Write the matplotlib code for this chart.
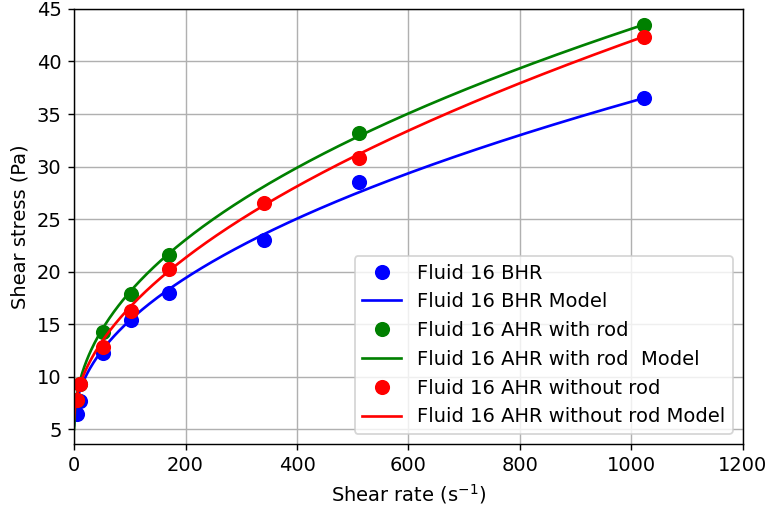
import numpy as np
import matplotlib
matplotlib.use('Agg')
from matplotlib import pyplot as plt

plt.rcParams['font.size'] = 11

# viscometer shear rates (1/s)
rate = [5.11, 10.22, 51.1, 102.2, 170.3, 340.6, 510.9, 1021.8]
rate_rod = [5.11, 10.22, 51.1, 102.2, 170.3, 510.9, 1021.8]

# measured shear stress (Pa)
bhr = [6.5, 7.7, 12.3, 15.4, 18.0, 23.0, 28.5, 36.5]
ahr_rod = [7.8, 9.3, 14.3, 17.9, 21.6, 33.2, 43.5]
ahr_norod = [7.8, 9.3, 12.8, 16.3, 20.3, 26.5, 30.8, 42.3]

# Herschel-Bulkley model parameters: tau0, K, n
hb_bhr = (5.4, 1.043, 0.49)
hb_rod = (5.0, 1.535, 0.465)
hb_norod = (6.0, 0.924, 0.53)


def hb_model(g, params):
    tau0, k, n = params
    return tau0 + k * g ** n


g = np.linspace(0, max(rate), 500)

plt.figure(figsize=(6, 4.008), dpi=128)
plt.subplots_adjust(left=0.0964, right=0.9674, top=0.9825, bottom=0.1345)

ms = 7.5
plt.plot(rate, bhr, 'bo', ms=ms, label='Fluid 16 BHR')
plt.plot(g, hb_model(g, hb_bhr), 'b-', label='Fluid 16 BHR Model')
plt.plot(rate_rod, ahr_rod, 'go', ms=ms, label='Fluid 16 AHR with rod')
plt.plot(g, hb_model(g, hb_rod), 'g-', label='Fluid 16 AHR with rod  Model')
plt.plot(rate, ahr_norod, 'ro', ms=ms, label='Fluid 16 AHR without rod')
plt.plot(g, hb_model(g, hb_norod), 'r-', label='Fluid 16 AHR without rod Model')

plt.xlim(0, 1200)
plt.ylim(3.6, 45)
plt.xlabel('Shear rate (s$^{-1}$)')
plt.ylabel('Shear stress (Pa)')
plt.grid()
plt.legend(loc='lower right')

plt.savefig('out.png', dpi=128)
